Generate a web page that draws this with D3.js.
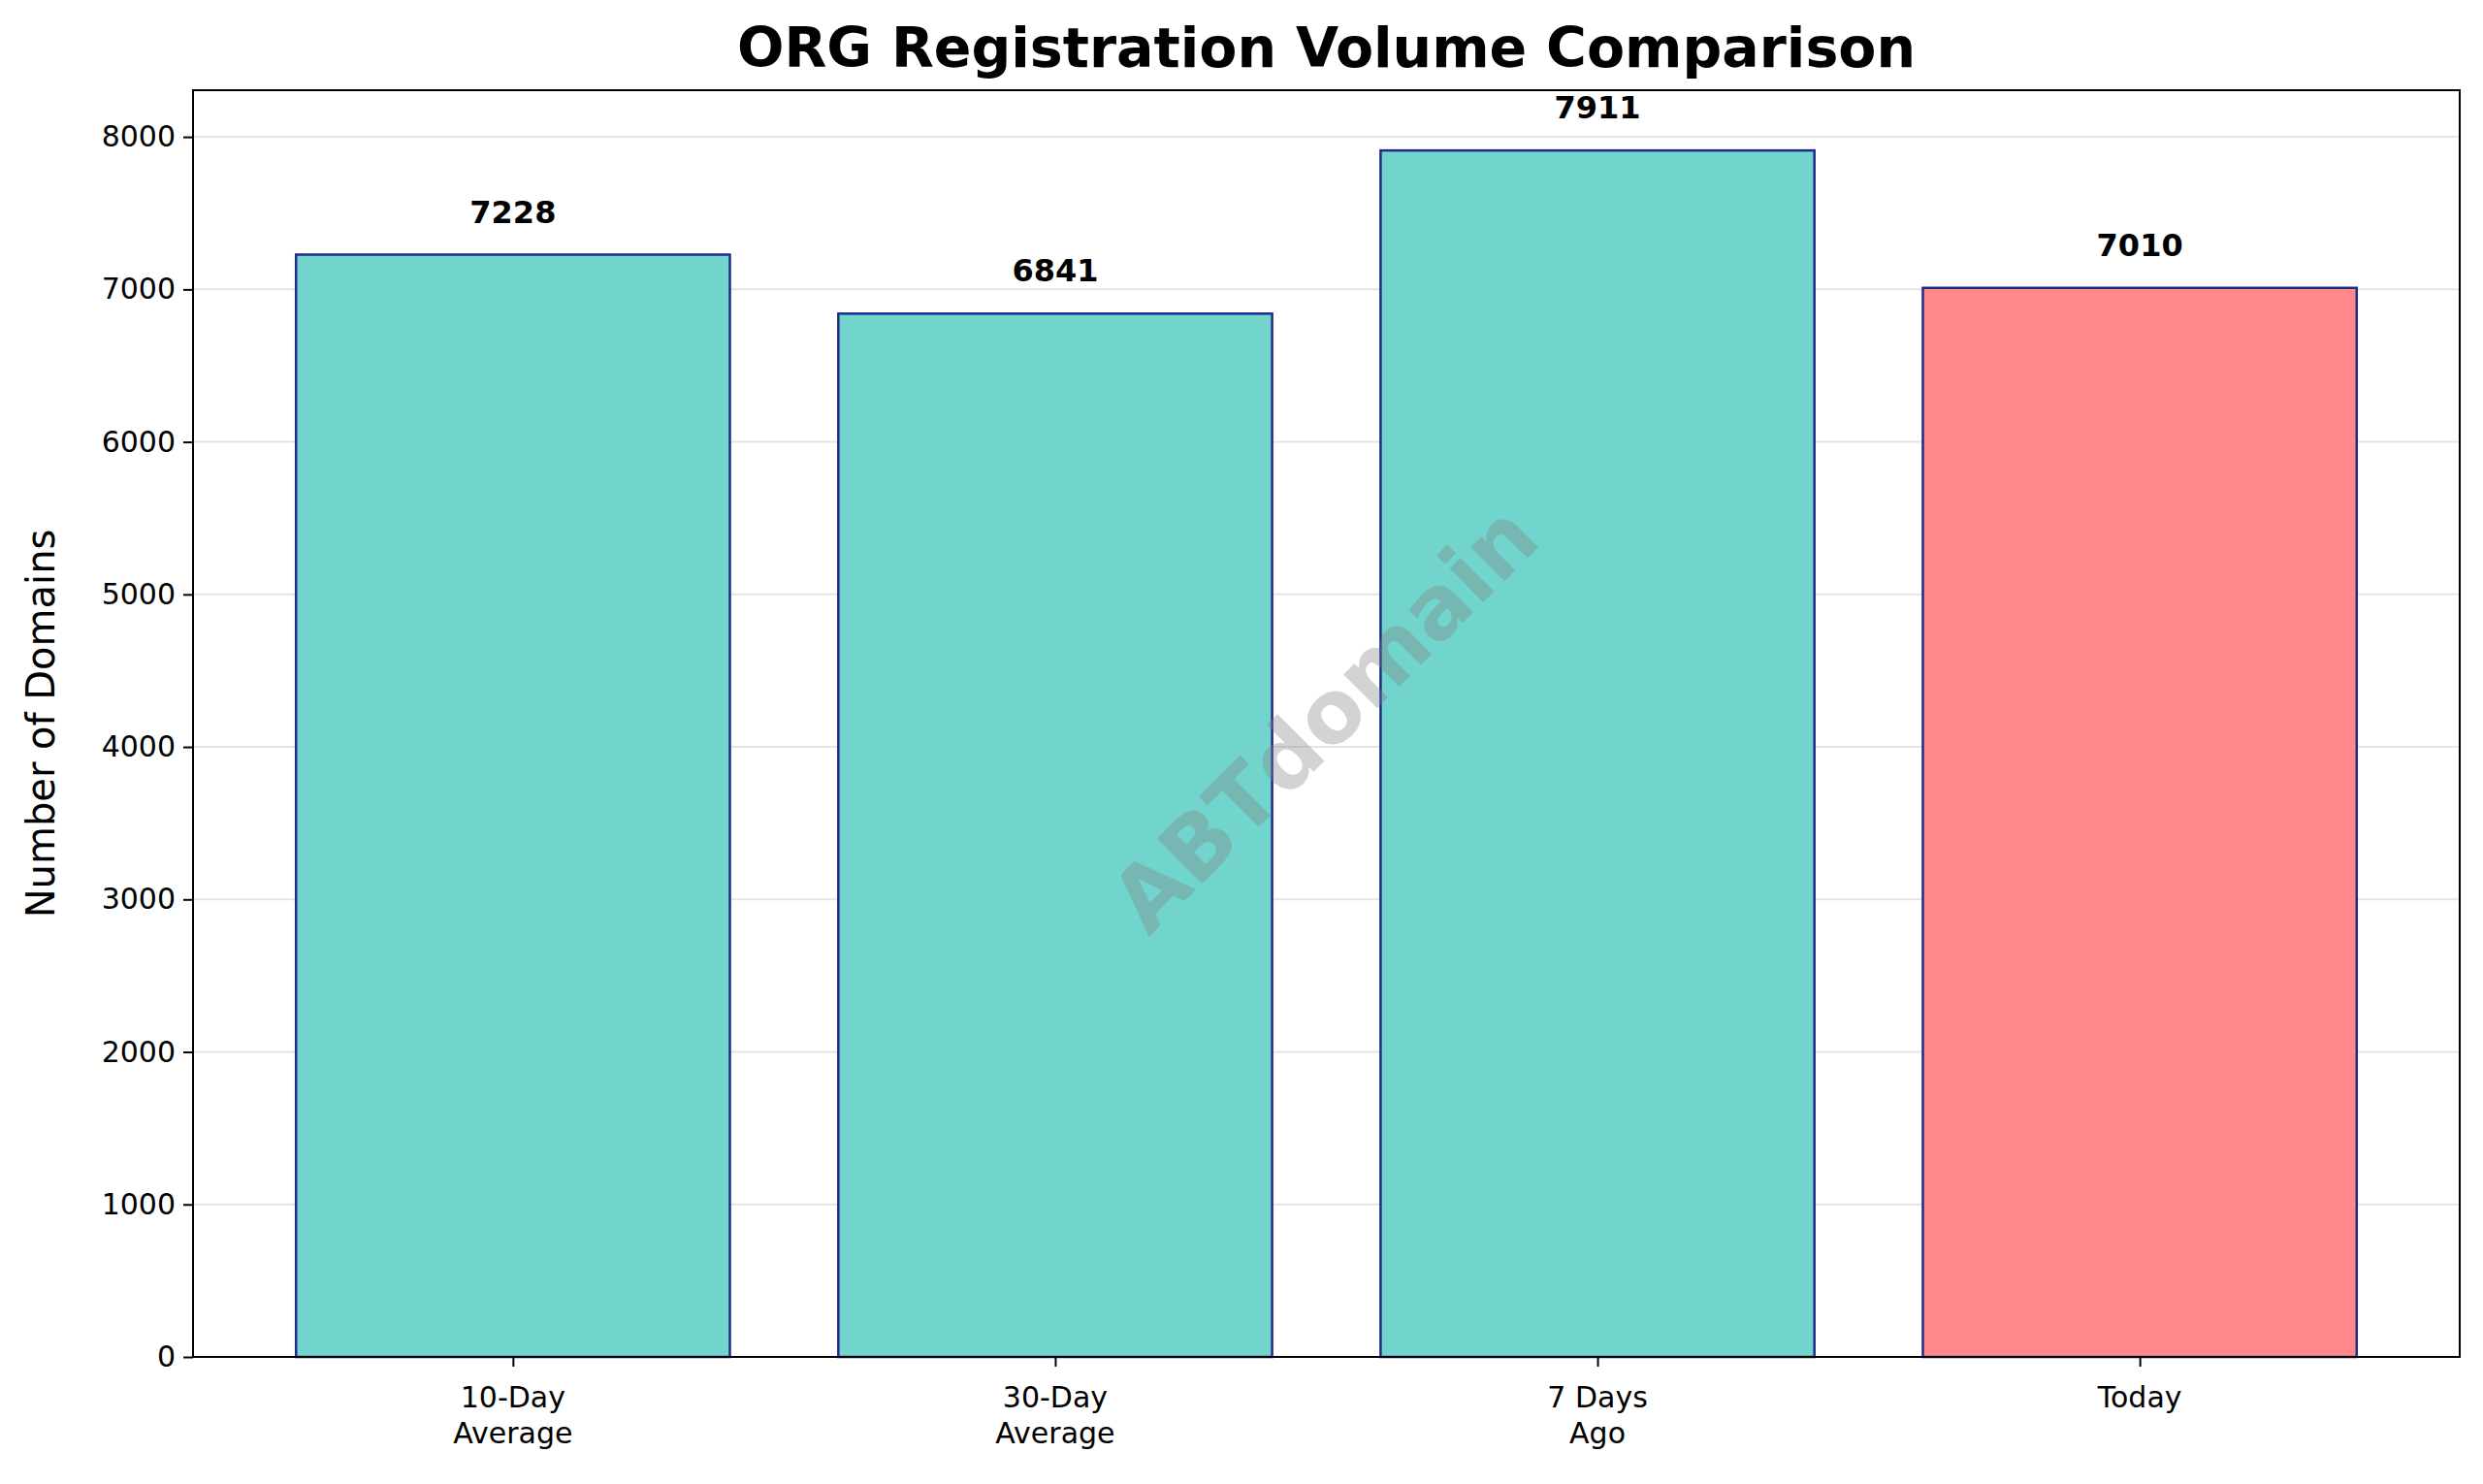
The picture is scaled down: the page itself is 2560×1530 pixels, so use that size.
<!DOCTYPE html><html><head><meta charset="utf-8">
<script src="https://cdn.jsdelivr.net/npm/d3@7"></script>
<style>body{margin:0;background:#fff}text{font-family:"DejaVu Sans"}</style></head><body>
<svg id="c" width="2560" height="1530"></svg>
<script>
const categories=[["10-Day","Average"],["30-Day","Average"],["7 Days","Ago"],["Today"]];
const values=[7228,6841,7911,7010];
const colors=["#72d5cd","#72d5cd","#72d5cd","#ff8888"];
const yTicks=[0,1000,2000,3000,4000,5000,6000,7000,8000];
const svg=d3.select("#c");
const L=199,R=2536,T=93,B=1399;
const x=d3.scaleLinear().domain([-0.59,3.59]).range([L,R]);
const y=d3.scaleLinear().domain([0,8306]).range([B,T]);
const g=svg.append("g");
g.selectAll(".gr").data(yTicks).join("line").attr("x1",L).attr("x2",R).attr("y1",d=>y(d)).attr("y2",d=>y(d)).attr("stroke","#e5e5e5").attr("stroke-width",2);
g.selectAll(".b").data(values).join("rect").attr("x",(d,i)=>x(i-0.4)).attr("width",x(0.8)-x(0)).attr("y",d=>y(d)).attr("height",d=>B-y(d)).attr("fill",(d,i)=>colors[i]).attr("stroke","#1f2a8a").attr("stroke-width",2.5);
g.selectAll(".v").data(values).join("text").attr("x",(d,i)=>x(i)).attr("y",d=>y(d)-33).attr("text-anchor","middle").attr("font-weight","bold").attr("font-size",32).text(d=>d);
svg.append("text").attr("transform","translate(1370,745) rotate(-45)").attr("text-anchor","middle").attr("dominant-baseline","middle").attr("font-size",90).attr("font-weight","bold").attr("fill","#808080").attr("fill-opacity",0.35).text("ABTdomain");
const ya=svg.append("g").attr("transform",`translate(${L},0)`).call(d3.axisLeft(y).tickValues(yTicks).tickFormat(d3.format("d")).tickSize(10).tickPadding(8));
ya.selectAll("text").attr("font-size",30).attr("fill","#000").attr("font-family","DejaVu Sans");
const xa=svg.append("g").attr("transform",`translate(0,${B})`).call(d3.axisBottom(x).tickValues([0,1,2,3]).tickSize(10).tickFormat(""));
[ya,xa].forEach(a=>{a.selectAll("line").attr("stroke","#000").attr("stroke-width",2);a.select(".domain").remove();});
categories.forEach((c,i)=>{const t=svg.append("text").attr("x",x(i)).attr("y",B+52).attr("text-anchor","middle").attr("font-size",30);
c.forEach((s,j)=>t.append("tspan").attr("x",x(i)).attr("dy",j?37:0).text(s));});
svg.append("rect").attr("x",L).attr("y",T).attr("width",R-L).attr("height",B-T).attr("fill","none").attr("stroke","#000").attr("stroke-width",2);
svg.append("text").attr("x",(L+R)/2).attr("y",69).attr("text-anchor","middle").attr("font-size",57).attr("font-weight","bold").text("ORG Registration Volume Comparison");
svg.append("text").attr("transform",`translate(56,${(T+B)/2}) rotate(-90)`).attr("text-anchor","middle").attr("font-size",40).text("Number of Domains");
</script></body></html>
